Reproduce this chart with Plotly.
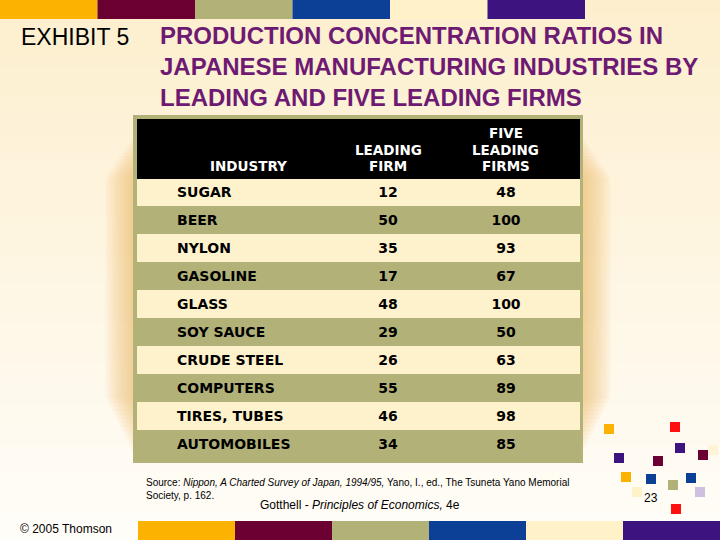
import plotly.graph_objects as go

# ---------------- data ----------------
industries = ["SUGAR", "BEER", "NYLON", "GASOLINE", "GLASS", "SOY SAUCE",
              "CRUDE STEEL", "COMPUTERS", "TIRES, TUBES", "AUTOMOBILES"]
leading_firm = [12, 50, 35, 17, 48, 29, 26, 55, 46, 34]
five_leading = [48, 100, 93, 67, 100, 50, 63, 89, 98, 85]
header_industry = ["INDUSTRY"]
header_leading = ["LEADING", "FIRM"]
header_five = ["FIVE", "LEADING", "FIRMS"]

W, H = 720, 540
def px(x): return x / W
def py(y): return 1 - y / H

LIGHT = "#FEF2CC"
OLIVE = "#B2B278"
PURPLE_T = "#6E1A72"

shapes = []
# background gradient (cream at top to near-white at bottom)
n = 40
top = (253, 239, 206)
bot = (255, 253, 248)
for i in range(n):
    t = i / (n - 1)
    c = tuple(round(top[k] + (bot[k] - top[k]) * t) for k in range(3))
    shapes.append(dict(type="rect", xref="paper", yref="paper",
                       x0=0, x1=1, y0=py(H * (i + 1) / n + 1), y1=py(H * i / n),
                       fillcolor="rgb(%d,%d,%d)" % c, line_width=0, layer="below"))

# soft golden glow around the table
for k in range(14):
    d = 28 - 2 * k
    shapes.append(dict(type="rect", xref="paper", yref="paper",
                       x0=px(133 - d), x1=px(583 + d), y0=py(455 - 2 * d), y1=py(135 + 1.5 * d),
                       fillcolor="#F0C060", opacity=0.06, line_width=0, layer="below"))

# olive table frame
shapes.append(dict(type="rect", xref="paper", yref="paper",
                   x0=px(133), x1=px(583), y0=py(463), y1=py(115),
                   fillcolor=OLIVE, line_width=0, layer="below"))

# top and bottom colour bars
bar_cols = ["#FBB200", "#6B0033", "#B2B278", "#0B4096", "#FFF2C9", "#3C137F"]
for i, c in enumerate(bar_cols):
    shapes.append(dict(type="rect", xref="paper", yref="paper",
                       x0=px(97.5 * i), x1=px(97.5 * (i + 1)), y0=py(19), y1=py(0),
                       fillcolor=c, line_width=0, layer="below"))
for i, c in enumerate(bar_cols):
    shapes.append(dict(type="rect", xref="paper", yref="paper",
                       x0=px(138 + 97 * i), x1=px(138 + 97 * (i + 1)), y0=py(540), y1=py(521),
                       fillcolor=c, line_width=0, layer="below"))

# decorative squares
squares = [(604, 424, "#FBB200"), (670, 422, "#FF1010"), (675, 443, "#3C137F"),
           (698, 450, "#6B0033"), (708, 445, "#FFF4D6"), (614, 453, "#3C137F"),
           (653, 456, "#6B0033"), (621, 472, "#FBB200"), (646, 474, "#0B4096"),
           (686, 473, "#0B4096"), (668, 480, "#B2B278"), (695, 487, "#CEC0E0"),
           (632, 487, "#FFF2C9"), (671, 504, "#FF1010")]
for x, y, c in squares:
    shapes.append(dict(type="rect", xref="paper", yref="paper",
                       x0=px(x), x1=px(x + 10), y0=py(y + 10), y1=py(y),
                       fillcolor=c, line_width=0, layer="above"))

# ---------------- table ----------------
nrows = len(industries)
row_fill = [LIGHT if i % 2 == 0 else OLIVE for i in range(nrows)]
blank = [""] * nrows
cell_font = dict(family="DejaVu Sans", size=14, color="black", weight="bold")

table = go.Table(
    domain=dict(x=[px(137), px(579)], y=[py(470), py(119)]),
    columnwidth=[32, 158, 122, 114, 16],
    header=dict(values=["", "", "", "", ""],
                fill_color="black", line=dict(color="black", width=1),
                font=dict(family="DejaVu Sans", size=13, color="white"),
                align="center", height=59),
    cells=dict(values=[blank, industries, leading_firm, five_leading, blank],
               fill_color=[row_fill] * 5, line=dict(color=[row_fill] * 5, width=1),
               font=cell_font, align=["left", "left", "center", "center", "left"],
               height=28),
)

fig = go.Figure(table)

hdr_font = dict(family="DejaVu Sans", size=13.5, color="white", weight="bold")
annotations = []
line_y = [133, 150, 166]
for labels, xc in [(header_industry, 248), (header_leading, 388), (header_five, 506)]:
    ys = line_y[3 - len(labels):]
    for lab, yy in zip(labels, ys):
        annotations.append(dict(x=px(xc), y=py(yy), text=lab, showarrow=False,
                                xanchor="center", yanchor="middle", font=hdr_font))

annotations += [
    dict(x=px(19), y=py(37), text="EXHIBIT 5", showarrow=False, xanchor="left", yanchor="middle",
         font=dict(family="Liberation Sans", size=23, color="black")),
    dict(x=px(158), y=py(66), text="PRODUCTION CONCENTRATION RATIOS IN<br>JAPANESE MANUFACTURING INDUSTRIES BY<br>LEADING AND FIVE LEADING FIRMS",
         showarrow=False, xanchor="left", yanchor="middle", align="left",
         font=dict(family="Liberation Sans", size=24, color=PURPLE_T, weight="bold")),
    dict(x=px(144), y=py(489), text="Source: <i>Nippon, A Charted Survey of Japan, 1994/95,</i> Yano, I., ed., The Tsuneta Yano Memorial<br>Society, p. 162.",
         showarrow=False, xanchor="left", yanchor="middle", align="left",
         font=dict(family="Liberation Sans", size=10, color="black")),
    dict(x=px(360), y=py(505), text="Gotthell - <i>Principles of Economics,</i> 4e",
         showarrow=False, xanchor="center", yanchor="middle",
         font=dict(family="Liberation Sans", size=12, color="black")),
    dict(x=px(18), y=py(529), text="© 2005 Thomson", showarrow=False, xanchor="left", yanchor="middle",
         font=dict(family="Liberation Sans", size=12, color="black")),
    dict(x=px(651), y=py(498), text="23", showarrow=False, xanchor="center", yanchor="middle",
         font=dict(family="Liberation Sans", size=12, color="black")),
]

fig.update_layout(width=W, height=H, margin=dict(l=0, r=0, t=0, b=0),
                  paper_bgcolor="white", plot_bgcolor="white",
                  shapes=shapes, annotations=annotations, showlegend=False)

fig.write_html("out.html", config={"displayModeBar": False},
               post_script="document.body.style.margin='0';")
